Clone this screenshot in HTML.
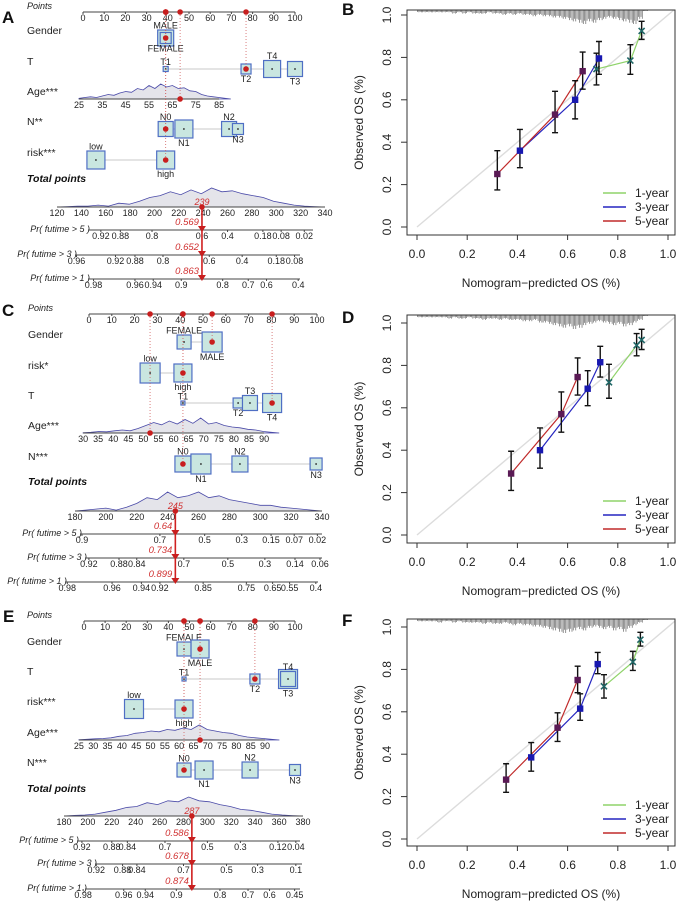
<!DOCTYPE html>
<html><head><meta charset="utf-8"><style>
body{margin:0;background:#fff;}
svg{display:block;font-family:"Liberation Sans",Arial,sans-serif;}
</style></head><body>
<svg id="fig" width="680" height="906" viewBox="0 0 680 906" xmlns="http://www.w3.org/2000/svg"></svg>
<script>
// ---------------- DATA: nomogram A ----------------
const A_pointsTicks=[0,10,20,30,40,50,60,70,80,90,100];
const A_gender=[{lab:'MALE',pts:39,size:16,pos:'above'},{lab:'FEMALE',pts:39,size:11,pos:'below'}];
const A_T=[{lab:'T1',pts:39,size:5,pos:'above'},{lab:'T2',pts:76.9,size:10,pos:'below'},{lab:'T4',pts:89.2,size:17,pos:'above'},{lab:'T3',pts:100,size:15,pos:'below'}];
const A_N=[{lab:'N0',pts:39,size:15,pos:'above'},{lab:'N1',pts:47.6,size:18,pos:'below'},{lab:'N2',pts:68.9,size:15,pos:'above'},{lab:'N3',pts:73.1,size:11,pos:'below'}];
const A_risk=[{lab:'low',pts:6.1,size:18,pos:'above'},{lab:'high',pts:39,size:18,pos:'below'}];
const A_ageTicks=[25,35,45,55,65,75,85];
const A_ageMap=[25,-1.9,85,64.2];
const A_ageSel=68.3;
const A_ageDens=[0.05,0.1,0.15,0.1,0.2,0.3,0.25,0.4,0.5,0.45,0.7,0.6,0.9,0.7,1,0.8,0.9,0.7,0.75,0.55,0.5,0.3,0.2,0.15,0.1,0.05,0];
const A_totTicks=[120,140,160,180,200,220,240,260,280,300,320,340];
const A_totDens=[0,0.02,0.05,0.05,0.1,0.05,0.2,0.15,0.3,0.5,0.6,0.8,0.65,0.9,0.7,1,0.8,0.85,0.7,0.6,0.5,0.3,0.2,0.1,0.05,0.02,0];
const A_totSel=239;
const A_prLab5=['0.92','0.88','0.8','0.6','0.4','0.18','0.08','0.02'];
const A_prTot5=[156,172,198,239,260,289,304,323];
const A_prLab3=['0.96','0.92','0.88','0.8','0.6','0.4','0.18','0.08'];
const A_prTot3=[136,168,184,207,245,272,300,315];
const A_prLab1=['0.98','0.96','0.94','0.9','0.8','0.7','0.6','0.4'];
const A_prTot1=[150,184,199,222,256,277,292,318];
const A_prVal=['0.569','0.652','0.863'];
// ---------------- DATA: nomogram C ----------------
const C_pointsTicks=[0,10,20,30,40,50,60,70,80,90,100];
const C_gender=[{lab:'FEMALE',pts:41.7,size:14,pos:'above'},{lab:'MALE',pts:54,size:20,pos:'below'}];
const C_risk=[{lab:'low',pts:26.8,size:20,pos:'above'},{lab:'high',pts:41.2,size:18,pos:'below'}];
const C_T=[{lab:'T1',pts:41.2,size:4,pos:'above'},{lab:'T2',pts:65.4,size:10,pos:'below'},{lab:'T3',pts:70.6,size:15,pos:'above'},{lab:'T4',pts:80.3,size:19,pos:'below'}];
const C_N=[{lab:'N0',pts:41.2,size:16,pos:'above'},{lab:'N1',pts:49.1,size:20,pos:'below'},{lab:'N2',pts:66.2,size:16,pos:'above'},{lab:'N3',pts:99.6,size:12,pos:'below'}];
const C_ageTicks=[30,35,40,45,50,55,60,65,70,75,80,85,90];
const C_ageMap=[30,-2.6,90,76.8];
const C_ageSel=52.2;
const C_ageDens=[0.02,0.05,0.1,0.08,0.15,0.2,0.15,0.3,0.5,0.7,0.55,0.8,0.6,0.9,0.65,1,0.6,0.7,0.5,0.4,0.35,0.25,0.2,0.1,0.05,0];
const C_totTicks=[180,200,220,240,260,280,300,320,340];
const C_totDens=[0,0.05,0.1,0.15,0.05,0.2,0.4,0.7,0.6,1,0.7,0.8,1,0.7,0.8,0.6,0.5,0.4,0.3,0.3,0.2,0.15,0.1,0.05,0];
const C_totSel=245;
const C_prLab5=['0.9','0.7','0.5','0.3','0.15','0.07','0.02'];
const C_prTot5=[184.5,235,264,288,307,322,337];
const C_prLab3=['0.92','0.88','0.84','0.7','0.5','0.3','0.14','0.06'];
const C_prTot3=[189,208.5,220,250.5,279,303,322.5,338.7];
const C_prLab1=['0.98','0.96','0.94','0.92','0.85','0.75','0.65','0.55','0.4'];
const C_prTot1=[175,204,223,235,263,291,308,319,336];
const C_prVal=['0.64','0.734','0.899'];
// ---------------- DATA: nomogram E ----------------
const E_pointsTicks=[0,10,20,30,40,50,60,70,80,90,100];
const E_gender=[{lab:'FEMALE',pts:47.4,size:14,pos:'above'},{lab:'MALE',pts:55,size:18,pos:'below'}];
const E_T=[{lab:'T1',pts:47.4,size:4,pos:'above'},{lab:'T2',pts:81,size:10,pos:'below'},{lab:'T3',pts:96.7,size:19,pos:'below'},{lab:'T4',pts:96.7,size:15,pos:'above'}];
const E_risk=[{lab:'low',pts:23.7,size:19,pos:'above'},{lab:'high',pts:47.4,size:18,pos:'below'}];
const E_N=[{lab:'N0',pts:47.4,size:14,pos:'above'},{lab:'N1',pts:56.9,size:18,pos:'below'},{lab:'N2',pts:78.7,size:16,pos:'above'},{lab:'N3',pts:100,size:11,pos:'below'}];
const E_ageTicks=[25,30,35,40,45,50,55,60,65,70,75,80,85,90];
const E_ageMap=[25,-2.4,90,85.8];
const E_ageSel=67.3;
const E_ageDens=[0.02,0.05,0.08,0.1,0.15,0.25,0.3,0.45,0.5,0.6,0.55,0.7,0.65,0.8,0.7,1,0.7,0.6,0.5,0.45,0.3,0.2,0.15,0.1,0.05,0];
const E_totTicks=[180,200,220,240,260,280,300,320,340,360,380];
const E_totDens=[0,0.03,0.05,0.1,0.2,0.3,0.45,0.5,0.7,0.6,0.8,0.75,1,0.8,0.75,0.6,0.5,0.35,0.3,0.2,0.1,0.05,0.02,0];
const E_totSel=287;
const E_prLab5=['0.92','0.88','0.84','0.7','0.5','0.3','0.12','0.04'];
const E_prTot5=[195,220,233,264.5,300,327.6,359,374];
const E_prLab3=['0.92','0.88','0.84','0.7','0.5','0.3','0.1'];
const E_prTot3=[207,229,241,280,316,342,374];
const E_prLab1=['0.98','0.96','0.94','0.9','0.8','0.7','0.6','0.45'];
const E_prTot1=[196,230,248,274,310.5,334,352,373];
const E_prVal=['0.586','0.678','0.874'];
// ---------------- DATA: calibration ----------------
const calTicks=[0,0.2,0.4,0.6,0.8,1.0];
const calTickLab=['0.0','0.2','0.4','0.6','0.8','1.0'];
const seriesNames=['1-year','3-year','5-year'];
const B_x1=[0.715,0.85,0.895], B_y1=[0.745,0.785,0.925], B_lo1=[0.67,0.72,0.885], B_hi1=[0.82,0.86,0.97];
const B_x3=[0.41,0.63,0.725], B_y3=[0.36,0.60,0.795], B_lo3=[0.28,0.51,0.72], B_hi3=[0.46,0.69,0.875];
const B_x5=[0.32,0.55,0.66], B_y5=[0.25,0.53,0.735], B_lo5=[0.175,0.445,0.65], B_hi5=[0.36,0.64,0.825];
const D_x1=[0.765,0.875,0.895], D_y1=[0.72,0.895,0.92], D_lo1=[0.645,0.845,0.875], D_hi1=[0.805,0.95,0.97];
const D_x3=[0.49,0.68,0.73], D_y3=[0.40,0.69,0.815], D_lo3=[0.315,0.61,0.745], D_hi3=[0.505,0.775,0.89];
const D_x5=[0.375,0.575,0.64], D_y5=[0.29,0.57,0.745], D_lo5=[0.21,0.485,0.66], D_hi5=[0.395,0.675,0.835];
const F_x1=[0.745,0.86,0.89], F_y1=[0.72,0.835,0.94], F_lo1=[0.665,0.795,0.91], F_hi1=[0.775,0.885,0.975];
const F_x3=[0.455,0.65,0.72], F_y3=[0.385,0.615,0.825], F_lo3=[0.32,0.56,0.78], F_hi3=[0.455,0.685,0.88];
const F_x5=[0.355,0.56,0.64], F_y5=[0.28,0.525,0.75], F_lo5=[0.22,0.46,0.69], F_hi5=[0.355,0.595,0.815];
const rugB=[1,1,1,1,1,1,1,2,1,2,1,2,2,2,1,2,2,3,2,3,2,3,3,4,3,4,4,5,5,6,7,8,9,10,8,9,7,6,5,6,7,8,9,10,6,0];
const rugD=[1,1,1,1,1,1,2,1,2,2,1,2,2,3,2,2,3,2,3,3,3,4,4,3,5,5,6,7,8,9,8,10,9,7,6,5,4,5,6,7,6,8,7,5,3,0];
const rugF=[1,1,1,1,2,1,1,2,1,2,2,2,2,3,2,3,3,2,3,4,3,4,4,5,5,6,7,8,9,10,9,8,7,8,6,5,6,7,6,8,7,9,6,4,2,0];
</script>
<script>
const NS='http://www.w3.org/2000/svg';
const S=document.getElementById('fig');
function mk(tag,a,p){const e=document.createElementNS(NS,tag);for(const k in a)e.setAttribute(k,a[k]);(p||S).appendChild(e);return e;}
function tx(str,a,p){const e=mk('text',a,p);e.textContent=str;return e;}

function nomo(id,L,D){
  const g=mk('g',{});
  
  
  const px=v=>L.p0+v*(L.p1-L.p0)/100;
  const tx0=D.tot[0], tx1=D.tot[D.tot.length-1];
  const tp=t=>L.t0+(t-tx0)*(L.t1-L.t0)/(tx1-tx0);
  const agePts=a=>D.ageMap[1]+(a-D.ageMap[0])*(D.ageMap[3]-D.ageMap[1])/(D.ageMap[2]-D.ageMap[0]);
  const pl=tx('Points',{x:L.lx,y:L.pY-3,'font-size':9,'font-style':'italic',fill:'#222'},g);
  
  
  mk('line',{x1:px(0),x2:px(100),y1:L.pY,y2:L.pY,stroke:'#444','stroke-width':1},g);
  D.pts.forEach(v=>{
    mk('line',{x1:px(v),x2:px(v),y1:L.pY,y2:L.pY+2,stroke:'#444'},g);
    const t=tx(String(v),{x:px(v),y:L.pY+9,'font-size':9,'text-anchor':'middle',fill:'#222'},g);
    
    
  });
  const dots=[];
  D.rows.forEach(r=>{
    const nm=tx(r.name,{x:L.lx,y:r.y-4,'font-size':10.5,fill:'#222'},g);
    
    
    if(r.age){
      const a0=D.ageTicks[0], a1=D.ageTicks[D.ageTicks.length-1]+5;
      const dens=D.ageDens;
      let d='M'+px(agePts(a0))+','+r.y;
      dens.forEach((h,i)=>{const a=a0+(a1-a0)*i/(dens.length-1);d+=' L'+px(agePts(a)).toFixed(1)+','+(r.y-h*15).toFixed(1);});
      d+=' L'+px(agePts(a1))+','+r.y+'Z';
      const ar=mk('path',{d:d,fill:'#e4e4ea',stroke:'#4a4aa8','stroke-width':0.8},g);
      
      
      mk('line',{x1:px(agePts(D.ageTicks[0])),x2:px(agePts(D.ageTicks[D.ageTicks.length-1])),y1:r.y,y2:r.y,stroke:'#444'},g);
      D.ageTicks.forEach(a=>{
        const t=tx(String(a),{x:px(agePts(a)),y:r.y+9,'font-size':9,'text-anchor':'middle',fill:'#222'},g);
        
        
      });
      dots.push({x:px(agePts(D.ageSel)),y:r.y});
    } else {
      const xs=r.levels.map(l=>px(l.pts));
      mk('line',{x1:Math.min(...xs),x2:Math.max(...xs),y1:r.y,y2:r.y,stroke:'#d4d4d4','stroke-width':1.2},g);
      r.levels.forEach(l=>{
        const x=px(l.pts), s=l.size;
        const b=mk('rect',{x:x-s/2,y:r.y-s/2,width:s,height:s,fill:'#c9e6e0',stroke:'#4f6fc4','stroke-width':1.2},g);
        
        
        mk('circle',{cx:x,cy:r.y,r:0.9,fill:'#222'},g);
        const ly=l.pos==='above'?r.y-s/2-1.5:r.y+s/2+8;
        const t=tx(l.lab,{x:x,y:ly,'font-size':9,'text-anchor':'middle',fill:'#222'},g);
        
        
        if(l.lab===r.sel) dots.push({x:x,y:r.y});
      });
    }
  });
  dots.forEach(d=>{
    mk('line',{x1:d.x,x2:d.x,y1:L.pY,y2:d.y,stroke:'#d06060','stroke-width':0.8,'stroke-dasharray':'1,2'},g);
  });
  dots.forEach(d=>{
    const c1=mk('circle',{cx:d.x,cy:d.y,r:2.8,fill:'#c81e1e'},g);
    
    
    const c2=mk('circle',{cx:d.x,cy:L.pY,r:2.8,fill:'#c81e1e'},g);
    
    
  });
  const tl=tx('Total points',{x:L.lx,y:L.tlY,'font-size':10.5,'font-style':'italic','font-weight':'bold',fill:'#111'},g);
  
  
  let d='M'+tp(tx0)+','+L.tY;
  D.totDens.forEach((h,i)=>{const t=tx0+(tx1-tx0)*i/(D.totDens.length-1);d+=' L'+tp(t).toFixed(1)+','+(L.tY-h*19).toFixed(1);});
  d+=' L'+tp(tx1)+','+L.tY+'Z';
  const td=mk('path',{d:d,fill:'#e4e4ea',stroke:'#4a4aa8','stroke-width':0.8},g);
  
  
  mk('line',{x1:tp(tx0),x2:tp(tx1),y1:L.tY,y2:L.tY,stroke:'#444'},g);
  D.tot.forEach(t=>{
    const e=tx(String(t),{x:tp(t),y:L.tY+9,'font-size':9,'text-anchor':'middle',fill:'#222'},g);
    
    
  });
  const yrs=['5','3','1'];
  D.pr.forEach((p,i)=>{
    const y=L.prY[i];
    const lab=tx('Pr( futime > '+yrs[i]+' )',{x:L.prX[i][0]+2,y:y+2,'font-size':9,'font-style':'italic','text-anchor':'end',fill:'#222'},g);
    
    
    mk('line',{x1:L.prX[i][0],x2:L.prX[i][1],y1:y,y2:y,stroke:'#444'},g);
    p.lab.forEach((s,j)=>{
      const x=tp(p.tot[j]);
      mk('line',{x1:x,x2:x,y1:y,y2:y+2,stroke:'#444'},g);
      const e=tx(s,{x:x,y:y+9,'font-size':9,'text-anchor':'middle',fill:'#222'},g);
      
      
    });
  });
  const sx=tp(D.totSel);
  const rl=mk('line',{x1:sx,x2:sx,y1:L.tY,y2:L.prY[2],stroke:'#d02020','stroke-width':1.6},g);
  
  
  mk('circle',{cx:sx,cy:L.tY,r:2.8,fill:'#c81e1e'},g);
  const tv=tx(String(D.totSel),{x:sx,y:L.tY-2,'font-size':9,'font-style':'italic','text-anchor':'middle',fill:'#d03030'},g);
  
  
  L.prY.forEach((y,i)=>{
    const tri=mk('path',{d:`M${sx-4},${y-4} L${sx+4},${y-4} L${sx},${y+2}Z`,fill:'#c81e1e'},g);
    
    
    const v=tx(D.prVal[i],{x:sx-3,y:y-5,'font-size':9.5,'font-style':'italic','text-anchor':'end',fill:'#d03030'},g);
    
    
  });
}

function calib(id,oy,top,bot,sers,rug){
  const g=mk('g',{});
  
  
  const X=v=>417+v*251, Y=v=>oy-v*212;
  const cid='clip'+id;
  const cp=mk('clipPath',{id:cid},g);
  mk('rect',{x:407,y:top,width:268,height:bot-top},cp);
  mk('line',{x1:X(0),y1:Y(0),x2:X(1.05),y2:Y(1.05),stroke:'#dcdcdc','stroke-width':1.4,'clip-path':`url(#${cid})`},g);
  rug.forEach((c,i)=>{
    for(let k=0;k<4;k++){
      const v=i*0.02+0.0025+k*0.005;
      const len=c*1.3*(0.75+0.25*((k+i)%2))+1;
      const r=mk('line',{x1:X(v),x2:X(v),y1:top,y2:top+len,stroke:'#666','stroke-width':0.7},g);
      
      
    }
  });
  const fr=mk('rect',{x:407,y:top,width:268,height:bot-top,fill:'none',stroke:'#333','stroke-width':1},g);
  
  
  calTicks.forEach((v,i)=>{
    mk('line',{x1:X(v),x2:X(v),y1:bot,y2:bot+5,stroke:'#333'},g);
    const xl=tx(calTickLab[i],{x:X(v),y:bot+23,'font-size':12,'text-anchor':'middle',fill:'#222'},g);
    
    
    mk('line',{x1:407,x2:401,y1:Y(v),y2:Y(v),stroke:'#333'},g);
    const yl=tx(calTickLab[i],{x:0,y:0,'font-size':12,'text-anchor':'middle',fill:'#222',transform:`translate(391,${Y(v)}) rotate(-90)`},g);
    
    
  });
  const xt=tx('Nomogram−predicted OS (%)',{x:541,y:bot+52,'font-size':12,'text-anchor':'middle',fill:'#222'},g);
  
  
  const yt=tx('Observed OS (%)',{x:0,y:0,'font-size':12,'text-anchor':'middle',fill:'#222',transform:`translate(363,${(top+bot)/2}) rotate(-90)`},g);
  
  
  const lc=['#8fd36a','#2525c0','#c02a2a'], mc=['#1f6666','#1818b0','#5a1a55'];
  sers.forEach((s,k)=>{
    let d='';
    s.x.forEach((v,i)=>{d+=(i?' L':'M')+X(v).toFixed(1)+','+Y(s.y[i]).toFixed(1);});
    const ln=mk('path',{d:d,fill:'none',stroke:lc[k],'stroke-width':1.2},g);
    
    
  });
  sers.forEach((s,k)=>{
    s.x.forEach((v,i)=>{
      const x=X(v);
      const eb=mk('path',{d:`M${x},${Y(s.lo[i])} L${x},${Y(s.hi[i])} M${x-3},${Y(s.lo[i])} L${x+3},${Y(s.lo[i])} M${x-3},${Y(s.hi[i])} L${x+3},${Y(s.hi[i])}`,stroke:'#111','stroke-width':1.4,fill:'none'},g);
      
      
      const y=Y(s.y[i]);
      let m;
      if(k===0){m=mk('path',{d:`M${x-3},${y-3} L${x+3},${y+3} M${x-3},${y+3} L${x+3},${y-3}`,stroke:mc[k],'stroke-width':1.6},g);}
      else {m=mk('rect',{x:x-3.2,y:y-3.2,width:6.4,height:6.4,fill:mc[k]},g);}
      
      
    });
  });
  seriesNames.forEach((n,k)=>{
    const y=oy-34+k*14;
    const l=mk('line',{x1:603,x2:626,y1:y,y2:y,stroke:lc[k],'stroke-width':1.4},g);
    
    
    const t=tx(n,{x:635,y:y+4,'font-size':12,fill:'#222'},g);
    
    
  });
}

[['A',2,23],['B',342,15],['C',2,316],['D',342,323],['E',3,622],['F',342,626]].forEach(p=>{
  const t=tx(p[0],{x:p[1],y:p[2],'font-size':17,'font-weight':'bold',fill:'#111'});
  
  
});

nomo('a',{lx:27,p0:83,p1:295,pY:12,tlY:182,t0:57,t1:325,tY:207,prY:[230,255,279],prX:[[88,313],[75,300],[88,300]]},
 {pts:A_pointsTicks,rows:[{name:'Gender',y:38,levels:A_gender,sel:'MALE'},{name:'T',y:69,levels:A_T,sel:'T2'},{name:'Age***',y:99,age:true},{name:'N**',y:129,levels:A_N,sel:'N0'},{name:'risk***',y:160,levels:A_risk,sel:'high'}],
  ageTicks:A_ageTicks,ageMap:A_ageMap,ageSel:A_ageSel,ageDens:A_ageDens,tot:A_totTicks,totDens:A_totDens,totSel:A_totSel,
  pr:[{lab:A_prLab5,tot:A_prTot5},{lab:A_prLab3,tot:A_prTot3},{lab:A_prLab1,tot:A_prTot1}],prVal:A_prVal});
nomo('c',{lx:28,p0:89,p1:317,pY:314,tlY:485,t0:75,t1:322,tY:511,prY:[534,558,582],prX:[[80,322],[85,322],[65,318]]},
 {pts:C_pointsTicks,rows:[{name:'Gender',y:342,levels:C_gender,sel:'MALE'},{name:'risk*',y:373,levels:C_risk,sel:'high'},{name:'T',y:403,levels:C_T,sel:'T4'},{name:'Age***',y:433,age:true},{name:'N***',y:464,levels:C_N,sel:'N0'}],
  ageTicks:C_ageTicks,ageMap:C_ageMap,ageSel:C_ageSel,ageDens:C_ageDens,tot:C_totTicks,totDens:C_totDens,totSel:C_totSel,
  pr:[{lab:C_prLab5,tot:C_prTot5},{lab:C_prLab3,tot:C_prTot3},{lab:C_prLab1,tot:C_prTot1}],prVal:C_prVal});
nomo('e',{lx:27,p0:84,p1:295,pY:621,tlY:792,t0:64,t1:303,tY:816,prY:[841,864,889],prX:[[77,300],[95,302],[85,300]]},
 {pts:E_pointsTicks,rows:[{name:'Gender',y:649,levels:E_gender,sel:'MALE'},{name:'T',y:679,levels:E_T,sel:'T2'},{name:'risk***',y:709,levels:E_risk,sel:'high'},{name:'Age***',y:740,age:true},{name:'N***',y:770,levels:E_N,sel:'N0'}],
  ageTicks:E_ageTicks,ageMap:E_ageMap,ageSel:E_ageSel,ageDens:E_ageDens,tot:E_totTicks,totDens:E_totDens,totSel:E_totSel,
  pr:[{lab:E_prLab5,tot:E_prTot5},{lab:E_prLab3,tot:E_prTot3},{lab:E_prLab1,tot:E_prTot1}],prVal:E_prVal});

calib('b',227,10,235,[{x:B_x1,y:B_y1,lo:B_lo1,hi:B_hi1},{x:B_x3,y:B_y3,lo:B_lo3,hi:B_hi3},{x:B_x5,y:B_y5,lo:B_lo5,hi:B_hi5}],rugB);
calib('d',535,315,543,[{x:D_x1,y:D_y1,lo:D_lo1,hi:D_hi1},{x:D_x3,y:D_y3,lo:D_lo3,hi:D_hi3},{x:D_x5,y:D_y5,lo:D_lo5,hi:D_hi5}],rugD);
calib('f',839,619,846,[{x:F_x1,y:F_y1,lo:F_lo1,hi:F_hi1},{x:F_x3,y:F_y3,lo:F_lo3,hi:F_hi3},{x:F_x5,y:F_y5,lo:F_lo5,hi:F_hi5}],rugF);
</script>
</body></html>
